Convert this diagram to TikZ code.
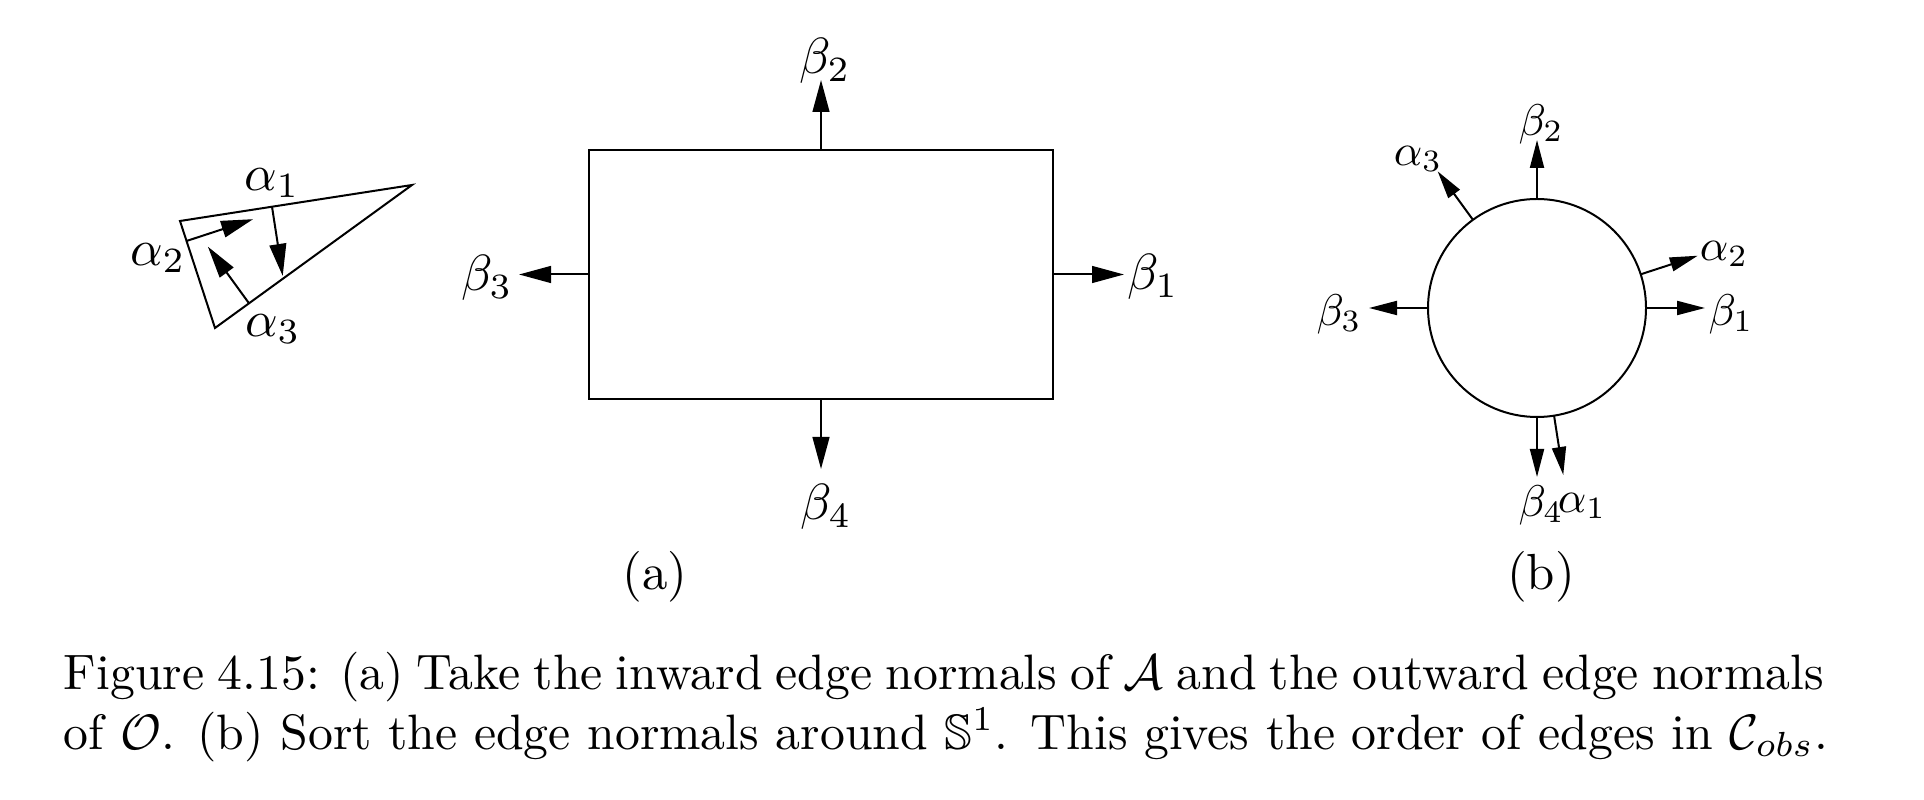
\documentclass[tikz,border=0pt]{standalone}
\usepackage{amssymb}
\usetikzlibrary{arrows.meta,calc}
\newcommand{\figtxt}[1]{\scalebox{1.27}{#1}}
\newcommand{\circtxt}[1]{\scalebox{1.11}{#1}}
\newcommand{\captxt}[1]{\scalebox{1.244}{#1}}
\begin{document}
\begin{tikzpicture}[x={(0.25pt,0)},y={(0,-0.25pt)},
  line width=0.5pt,
  arr/.style={-{Triangle[length=8pt,width=4.2pt]}},
  carr/.style={-{Triangle[length=7pt,width=3.5pt]}},
  lab/.style={inner sep=0pt,font=\fontsize{10}{12}\selectfont},
  captext/.style={inner sep=0pt,anchor=base west,font=\fontsize{10}{12}\selectfont}]
\useasboundingbox (0,0) rectangle (1924,800);

% ---------- triangle A ----------
\coordinate (tA) at (180,221);
\coordinate (tB) at (412,185);
\coordinate (tC) at (215,328);
\draw (tA) -- (tB) -- (tC) -- cycle;
\coordinate (n1s) at (272,206.7);
\coordinate (n1e) at ($(n1s)+(10.7,69.2)$);
\coordinate (n2s) at (186.5,241);
\coordinate (n2e) at ($(n2s)+(66.6,-21.8)$);
\coordinate (n3s) at (249,303.3);
\coordinate (n3e) at ($(n3s)+(-41.1,-56.6)$);
\draw[arr] (n1s) -- (n1e);
\draw[arr] (n2s) -- (n2e);
\draw[arr] (n3s) -- (n3e);
\node[lab] (ta1) at (272,183) {\figtxt{$\alpha_1$}};
\node[lab] (ta2) at (158,258) {\figtxt{$\alpha_2$}};
\node[lab] (ta3) at (273,329) {\figtxt{$\alpha_3$}};

% ---------- rectangle O ----------
\node[draw, inner sep=0pt, outer sep=0pt, minimum width=116pt, minimum height=62.25pt] (rect) at (821,274.5) {};
\coordinate (rb1) at (1124,274.5);
\coordinate (rb2) at (821,80);
\coordinate (rb3) at (519,274.5);
\coordinate (rb4) at (821,469);
\draw[arr] (rect.east) -- (rb1);
\draw[arr] (rect.north) -- (rb2);
\draw[arr] (rect.west) -- (rb3);
\draw[arr] (rect.south) -- (rb4);
\node[lab] (lb1) at (1153,277) {\figtxt{$\beta_1$}};
\node[lab] (lb2) at (825,61) {\figtxt{$\beta_2$}};
\node[lab] (lb3) at (487,278) {\figtxt{$\beta_3$}};
\node[lab] (lb4) at (826,507) {\figtxt{$\beta_4$}};
\node[lab] (la) at (655,577) {\figtxt{(a)}};

% ---------- circle S^1 ----------
\node[draw, circle, inner sep=0pt, outer sep=0pt, minimum size=54.5pt] (circ) at (1537,308) {};
\coordinate (cb1) at ($(circ.0)+(59,0)$);
\coordinate (cb2) at ($(circ.90)+(0,-59)$);
\coordinate (cb3) at ($(circ.180)+(-59,0)$);
\coordinate (cb4) at ($(circ.270)+(0,60)$);
\coordinate (ca1) at ($(circ.-81.2)+(9.2,59.3)$);
\coordinate (ca2) at ($(circ.18.1)+(57.1,-18.6)$);
\coordinate (ca3) at ($(circ.126)+(-35.3,-48.5)$);
\draw[carr] (circ.0) -- (cb1);
\draw[carr] (circ.90) -- (cb2);
\draw[carr] (circ.180) -- (cb3);
\draw[carr] (circ.270) -- (cb4);
\draw[carr] (circ.-81.2) -- (ca1);
\draw[carr] (circ.18.1) -- (ca2);
\draw[carr] (circ.126) -- (ca3);
\node[lab] (cl1) at (1731,314) {\circtxt{$\beta_1$}};
\node[lab] (cl2) at (1541,124) {\circtxt{$\beta_2$}};
\node[lab] (cl3) at (1339,314) {\circtxt{$\beta_3$}};
\node[lab] (cl4) at (1541,505) {\circtxt{$\beta_4$}};
\node[lab] (cm1) at (1582,506) {\circtxt{$\alpha_1$}};
\node[lab] (cm2) at (1724,254) {\circtxt{$\alpha_2$}};
\node[lab] (cm3) at (1418,159) {\circtxt{$\alpha_3$}};
\node[lab] (lbb) at (1541,577) {\figtxt{(b)}};

% ---------- caption ----------
\node[captext] (cap1) at (63,689) {\captxt{\makebox[353.7pt][s]{Figure 4.15: (a) Take the inward edge normals of $\mathcal{A}$ and the outward edge normals}}};
\node[captext] (cap2) at (63,749) {\captxt{of $\mathcal{O}$. (b) Sort the edge normals around $\mathbb{S}^1$. This gives the order of edges in $\mathcal{C}_{obs}$.}};
\end{tikzpicture}
\end{document}
